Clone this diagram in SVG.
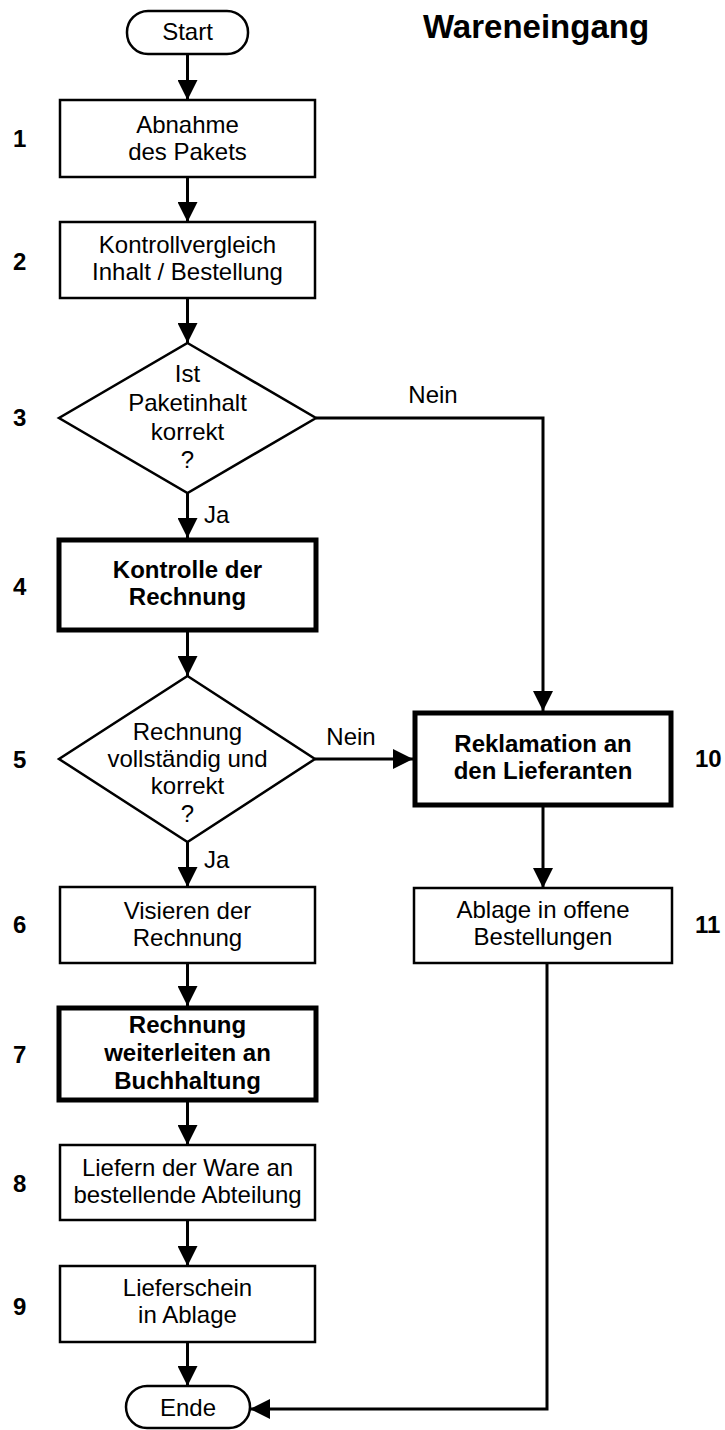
<svg xmlns="http://www.w3.org/2000/svg" width="725" height="1430" viewBox="0 0 725 1430">
<style>
text{font-family:"Liberation Sans",Arial,sans-serif;font-size:24px;fill:#000}
.c{text-anchor:middle}
.b{font-weight:bold}
.box{fill:#fff;stroke:#000;stroke-width:2.5}
.bold{fill:#fff;stroke:#000;stroke-width:5}
.conn{fill:none;stroke:#000;stroke-width:3}
</style>
<defs>
<marker id="arr" markerUnits="userSpaceOnUse" markerWidth="20" markerHeight="20" refX="20" refY="10" orient="auto" viewBox="0 0 20 20">
<path d="M0,0 L20,10 L0,20 z" fill="#000"/>
</marker>
</defs>
<text x="536" y="38" class="c b" style="font-size:33px">Wareneingang</text>
<g id="connectors">
<line class="conn" x1="187.5" y1="54" x2="187.5" y2="100" marker-end="url(#arr)"/>
<line class="conn" x1="187.5" y1="177" x2="187.5" y2="222" marker-end="url(#arr)"/>
<line class="conn" x1="187.5" y1="298" x2="187.5" y2="343" marker-end="url(#arr)"/>
<line class="conn" x1="187.5" y1="493" x2="187.5" y2="538" marker-end="url(#arr)"/>
<line class="conn" x1="187.5" y1="632" x2="187.5" y2="676" marker-end="url(#arr)"/>
<line class="conn" x1="187.5" y1="842" x2="187.5" y2="887" marker-end="url(#arr)"/>
<line class="conn" x1="187.5" y1="963" x2="187.5" y2="1006" marker-end="url(#arr)"/>
<line class="conn" x1="187.5" y1="1102" x2="187.5" y2="1145" marker-end="url(#arr)"/>
<line class="conn" x1="187.5" y1="1220" x2="187.5" y2="1266" marker-end="url(#arr)"/>
<line class="conn" x1="187.5" y1="1342" x2="187.5" y2="1386" marker-end="url(#arr)"/>
<polyline class="conn" points="316,418 543,418 543,711" marker-end="url(#arr)"/>
<line class="conn" x1="315" y1="759" x2="413" y2="759" marker-end="url(#arr)"/>
<line class="conn" x1="543" y1="807" x2="543" y2="888" marker-end="url(#arr)"/>
<polyline class="conn" points="547,963 547,1409 250,1409" marker-end="url(#arr)"/>
<text x="433" y="403" class="c">Nein</text>
<text x="351" y="745" class="c">Nein</text>
<text x="204" y="523">Ja</text>
<text x="204" y="868">Ja</text>
</g>
<g id="start">
<rect x="127" y="11" width="121" height="43" rx="21" class="box"/>
<text x="187.5" y="40" class="c">Start</text>
</g>
<g id="n1">
<rect x="60" y="100" width="255" height="77" class="box"/>
<text x="187.5" y="133" class="c">Abnahme</text>
<text x="187.5" y="160" class="c">des Pakets</text>
<text x="13" y="147" class="b">1</text>
</g>
<g id="n2">
<rect x="60" y="222" width="255" height="76" class="box"/>
<text x="187.5" y="253" class="c">Kontrollvergleich</text>
<text x="187.5" y="280" class="c">Inhalt / Bestellung</text>
<text x="13" y="270" class="b">2</text>
</g>
<g id="n3">
<polygon points="187.5,343 316,418 187.5,493 59,418" class="box"/>
<text x="187.5" y="382" class="c">Ist</text>
<text x="187.5" y="411" class="c">Paketinhalt</text>
<text x="187.5" y="440" class="c">korrekt</text>
<text x="187.5" y="468" class="c">?</text>
<text x="13" y="426" class="b">3</text>
</g>
<g id="n4">
<rect x="59" y="540" width="257" height="90" class="bold"/>
<text x="187.5" y="578" class="c b">Kontrolle der</text>
<text x="187.5" y="605" class="c b">Rechnung</text>
<text x="13" y="595" class="b">4</text>
</g>
<g id="n5">
<polygon points="187.5,676 315,759 187.5,842 59,759" class="box"/>
<text x="187.5" y="740" class="c">Rechnung</text>
<text x="187.5" y="767" class="c">vollständig und</text>
<text x="187.5" y="794" class="c">korrekt</text>
<text x="187.5" y="822" class="c">?</text>
<text x="13" y="768" class="b">5</text>
</g>
<g id="n6">
<rect x="60" y="887" width="255" height="76" class="box"/>
<text x="187.5" y="919" class="c">Visieren der</text>
<text x="187.5" y="946" class="c">Rechnung</text>
<text x="13" y="933" class="b">6</text>
</g>
<g id="n7">
<rect x="59" y="1008" width="257" height="92" class="bold"/>
<text x="187.5" y="1033" class="c b">Rechnung</text>
<text x="187.5" y="1061" class="c b">weiterleiten an</text>
<text x="187.5" y="1089" class="c b">Buchhaltung</text>
<text x="13" y="1063" class="b">7</text>
</g>
<g id="n8">
<rect x="60" y="1145" width="255" height="75" class="box"/>
<text x="187.5" y="1176" class="c">Liefern der Ware an</text>
<text x="187.5" y="1203" class="c">bestellende Abteilung</text>
<text x="13" y="1192" class="b">8</text>
</g>
<g id="n9">
<rect x="60" y="1266" width="255" height="76" class="box"/>
<text x="187.5" y="1296" class="c">Lieferschein</text>
<text x="187.5" y="1323" class="c">in Ablage</text>
<text x="13" y="1315" class="b">9</text>
</g>
<g id="ende">
<rect x="126" y="1386" width="124" height="42" rx="21" class="box"/>
<text x="188" y="1416" class="c">Ende</text>
</g>
<g id="n10">
<rect x="415" y="713" width="256" height="92" class="bold"/>
<text x="543" y="752" class="c b">Reklamation an</text>
<text x="543" y="779" class="c b">den Lieferanten</text>
<text x="695" y="767" class="b">10</text>
</g>
<g id="n11">
<rect x="414" y="888" width="258" height="75" class="box"/>
<text x="543" y="918" class="c">Ablage in offene</text>
<text x="543" y="945" class="c">Bestellungen</text>
<text x="695" y="933" class="b">11</text>
</g>
</svg>
